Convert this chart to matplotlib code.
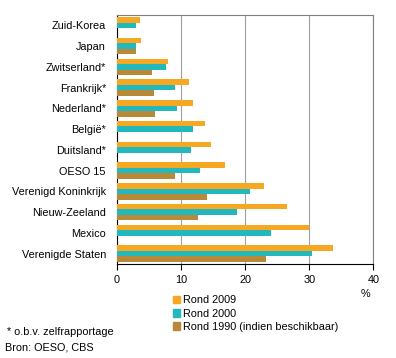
import numpy as np
import matplotlib
matplotlib.use("Agg")
import matplotlib.pyplot as plt
from matplotlib.patches import Patch

plt.rcParams["font.family"] = ["Liberation Sans", "DejaVu Sans"]
plt.rcParams["font.size"] = 7.8

# Data
landen = ["Zuid-Korea", "Japan", "Zwitserland*", "Frankrijk*", "Nederland*", "België*",
          "Duitsland*", "OESO 15", "Verenigd Koninkrijk", "Nieuw-Zeeland", "Mexico",
          "Verenigde Staten"]
rond_2009 = [3.6, 3.8, 8.0, 11.2, 11.8, 13.7, 14.6, 16.8, 22.9, 26.5, 30.0, 33.7]
rond_2000 = [3.0, 2.9, 7.6, 9.0, 9.3, 11.9, 11.5, 12.9, 20.8, 18.7, 24.1, 30.4]
rond_1990 = [np.nan, 2.9, 5.4, 5.7, 6.0, np.nan, np.nan, 9.0, 14.0, 12.6, np.nan, 23.2]
reeksen = ["Rond 2009", "Rond 2000", "Rond 1990 (indien beschikbaar)"]
kleuren = ["#F7A823", "#23B8BE", "#B9893A"]

fig = plt.figure(figsize=(3.96, 3.58), dpi=100)
ax = fig.add_axes([0.2955, 0.2626, 0.6472, 0.6955])

y = np.arange(len(landen))
h = 0.265
for i, (vals, kleur) in enumerate(zip([rond_2009, rond_2000, rond_1990], kleuren)):
    ax.barh(y + (i - 1) * h, vals, height=h, color=kleur, zorder=3)

ax.set_ylim(len(landen) - 0.5, -0.5)
ax.set_xlim(0, 40)
ax.set_xticks([0, 10, 20, 30, 40])
ax.set_yticks(y)
ax.set_yticklabels(landen)
ax.tick_params(axis="y", length=0, pad=8)
ax.tick_params(axis="x", length=4, width=0.8, color="black", direction="out", pad=4)
ax.grid(axis="x", color="#A0A0A0", linewidth=0.8, zorder=0)
for s in ["top", "right"]:
    ax.spines[s].set_color("#808080")
ax.spines["left"].set_color("black")
ax.spines["bottom"].set_color("black")

fig.text(0.923, 0.165, "%", ha="center", va="bottom")

handles = [Patch(color=k) for k in kleuren]
fig.legend(handles, reeksen, loc="upper left",
           bbox_to_anchor=(0.422, 0.19), frameon=False, handlelength=0.7,
           handleheight=0.7, handletextpad=0.25, labelspacing=0.3, borderpad=0)

fig.text(0.018, 0.072, "* o.b.v. zelfrapportage", va="center")
fig.text(0.013, 0.030, "Bron: OESO, CBS", va="center")

fig.savefig("out.png", dpi=100)
